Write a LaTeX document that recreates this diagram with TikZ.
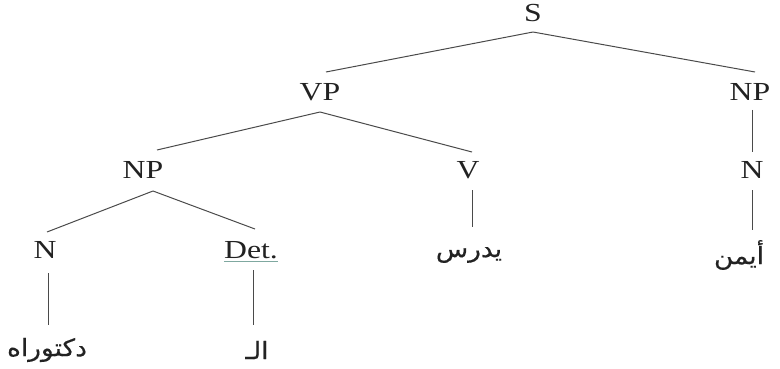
\documentclass[tikz,border=0pt]{standalone}
\usepackage{fontspec}
\setmainfont{Liberation Serif}[FakeStretch=1.22]
\newfontfamily\arabicfont[Script=Arabic,FakeStretch=1.1,FakeBold=0.4]{DejaVu Sans}
\TeXXeTstate=1
\definecolor{txt}{HTML}{222222}
\definecolor{ln}{HTML}{4A4A4A}
\definecolor{ul}{HTML}{7FA8A0}
\begin{document}
\begin{tikzpicture}[x=1pt,y=-1pt,
  lab/.style={font=\fontsize{26}{26}\selectfont, text=txt, inner sep=0pt, text height=17pt, text depth=0pt, anchor=center},
  ar/.style={font=\arabicfont\fontsize{24}{24}\selectfont, text=txt, inner sep=0pt, anchor=center},
  edge/.style={draw=ln, line width=1pt}]
\useasboundingbox (0,0) rectangle (780,369);
% labels
\node[lab] (S)   at (533,13.5) {S};
\node[lab] (VP)  at (320,91.5) {VP};
\node[lab] (NPr) at (750,91.5) {NP};
\node[lab] (NPl) at (143,170) {NP};
\node[lab] (V)   at (468,170) {V};
\node[lab] (Nr)  at (752,170) {N};
\node[lab] (N)   at (45,250) {N};
\node[lab] (Det) at (251,250) {Det.};
\node[ar] (yd) at (469,255) {\beginR يدرس\endR};
\node[ar] (ay) at (739,255) {\beginR أيمن\endR};
\node[ar] (dk) at (47,350) {\beginR دكتوراه\endR};
\node[ar] (al) at (257,350) {\beginR الـ\endR};
% underline of Det.
\draw[draw=ul, line width=0.6pt] ([yshift=-2.5pt]Det.south west) -- ([yshift=-2.5pt]Det.south east);
% edges
\draw[edge] ([yshift=-18.5pt]S.center) -- ([xshift=6pt,yshift=19.5pt]VP.center);
\draw[edge] ([yshift=-18.5pt]S.center) -- ([xshift=5pt,yshift=19.5pt]NPr.center);
\draw[edge] ([yshift=-20.5pt]VP.center) -- ([xshift=14pt,yshift=20pt]NPl.center);
\draw[edge] ([yshift=-20.5pt]VP.center) -- ([xshift=4pt,yshift=18pt]V.center);
\draw[edge] ([xshift=2pt,yshift=-18.5pt]NPr.center) -- ([yshift=18pt]Nr.center);
\draw[edge] ([xshift=10pt,yshift=-21pt]NPl.center) -- ([xshift=2pt,yshift=18pt]N.center);
\draw[edge] ([xshift=10pt,yshift=-21pt]NPl.center) -- ([xshift=4pt,yshift=21pt]Det.center);
\draw[edge] ([xshift=4pt,yshift=-20pt]V.center) -- ([xshift=3pt,yshift=28pt]yd.center);
\draw[edge] ([yshift=-20pt]Nr.center) -- ([xshift=13pt,yshift=25pt]ay.center);
\draw[edge] ([xshift=3pt,yshift=-23pt]N.center) -- ([xshift=1pt,yshift=25pt]dk.center);
\draw[edge] ([xshift=2pt,yshift=-20pt]Det.center) -- ([xshift=-4pt,yshift=25pt]al.center);
\end{tikzpicture}
\end{document}
